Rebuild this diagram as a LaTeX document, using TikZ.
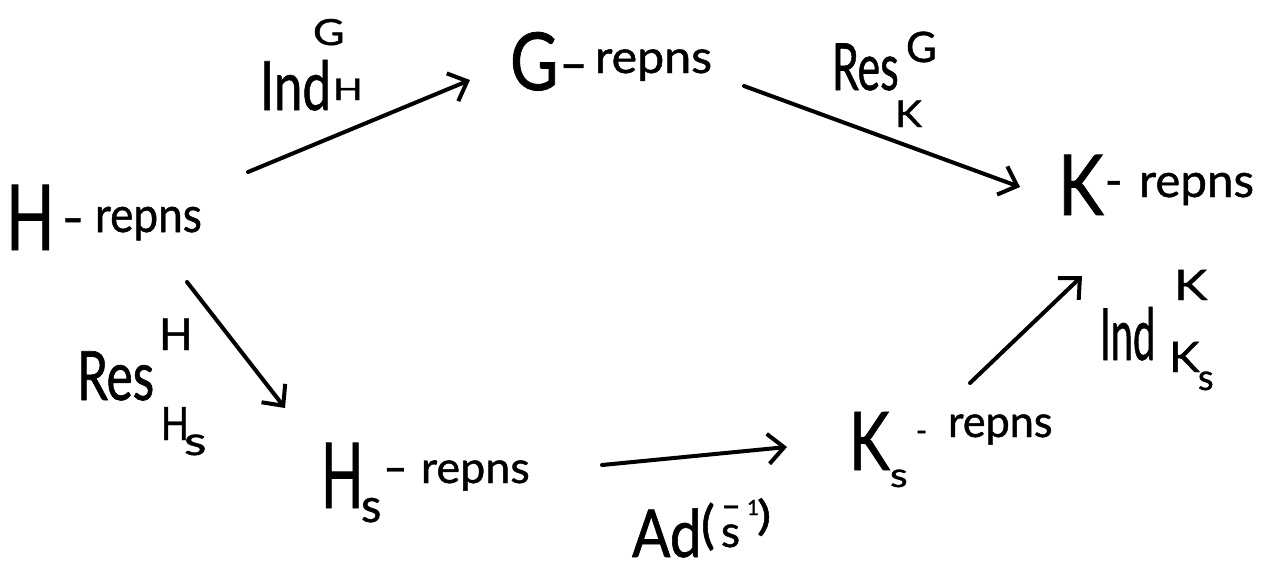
\documentclass[tikz,border=0pt]{standalone}
\usepackage{fontspec}
\usepackage{graphicx}
\setmainfont{Lato}[FakeBold=1]
\usetikzlibrary{arrows.meta}
\newcommand\fs[1]{\fontsize{#1}{#1}\selectfont}
% piece of text: horizontal offset, raise, size, horizontal scale, text
\newcommand\at[5]{\rlap{\hspace*{#1pt}\raisebox{#2pt}{\fs{#3}\scalebox{#4}[1]{#5}}}}
% last piece of a text, which gives the node its width
\newcommand\fin[5]{\hspace*{#1pt}\raisebox{#2pt}{\fs{#3}\scalebox{#4}[1]{#5}}}
\tikzset{
  txt/.style={anchor=base west, inner sep=0pt, outer sep=0pt},
  map/.style={line width=4pt, line cap=round,
    -{Straight Barb[length=16pt,width=30pt,line width=4pt]}}
}
\begin{document}
\begin{tikzpicture}[x=1pt,y=-1pt]
\useasboundingbox[fill=white] (0,0) rectangle (1266,571);

% the five categories of representations
\node[txt] (H) at (10,250)
  {\at{-4}{0}{91}{0.7}{H}\at{52}{15}{49}{1.2}{-}\fin{85}{18}{49}{0.9}{repns}};
\node[txt] (G) at (513,90)
  {\at{-3}{0}{80}{0.83}{G}\at{46}{10}{46}{1.7}{-}\fin{82}{17}{46}{1.05}{repns}};
\node[txt] (K) at (1062,215)
  {\at{-4}{0}{84}{0.82}{K}\at{43}{18}{47}{1}{-}\fin{77}{18}{47}{1.01}{repns}};
\node[txt] (Hs) at (325,508)
  {\at{-4}{0}{91}{0.61}{H}\at{36}{-14}{47}{1}{s}\at{58}{25}{44}{1.5}{-}\fin{96}{25}{44}{1.02}{repns}};
\node[txt] (Ks) at (853,470)
  {\at{-4}{0}{81}{0.76}{K}\at{37}{-17}{34}{1.2}{s}\at{63}{29}{30}{1}{-}\fin{95}{33}{44}{0.98}{repns}};

% labels of the maps
\node[txt] (lIndG) at (263,110)
  {\at{-3}{0}{68}{0.75}{Ind}\at{50}{65}{36}{1.2}{G}\fin{70}{10}{30}{1.3}{H}};
\node[txt] (lResG) at (835,90)
  {\at{-3}{0}{65}{0.66}{Res}\at{71}{28}{42}{1}{G}\fin{60}{-37}{37}{1.1}{K}};
\node[txt] (lResH) at (80,400)
  {\at{-3}{0}{68}{0.73}{Res}\at{79}{50}{44}{1}{H}\at{81}{-40}{46}{0.8}{H}\fin{104}{-55}{40}{1.3}{s}};
\node[txt] (lAd) at (635,557)
  {\at{-3}{0}{66}{0.86}{Ad}\at{66}{14}{52}{1}{(}\at{86}{10}{44}{1}{s}\at{86}{40}{34}{1.6}{-}\at{112}{42}{21}{1}{1}\fin{122}{27}{41}{1.3}{)}};
\node[txt] (lIndK) at (1103,360)
  {\at{-3}{0}{72}{0.55}{Ind}\at{71}{60}{42}{1.2}{K}\at{66}{-12}{42}{1.1}{K}\fin{95}{-30}{36}{1}{s}};

% the maps between them
\draw[map] ([shift={(238,-78)}]H.base west) -- ([shift={(-43,-10)}]G.base west);
\draw[map] ([shift={(231,-4)}]G.base west) -- ([shift={(-42,-28)}]K.base west);
\draw[map] ([shift={(177,32)}]H.base west) -- ([shift={(-40,-100)}]Hs.base west);
\draw[map] ([shift={(277,-43)}]Hs.base west) -- ([shift={(-66,-23)}]Ks.base west);
\draw[map] ([shift={(117,-87)}]Ks.base west) -- ([shift={(20,61)}]K.base west);
\end{tikzpicture}
\end{document}
